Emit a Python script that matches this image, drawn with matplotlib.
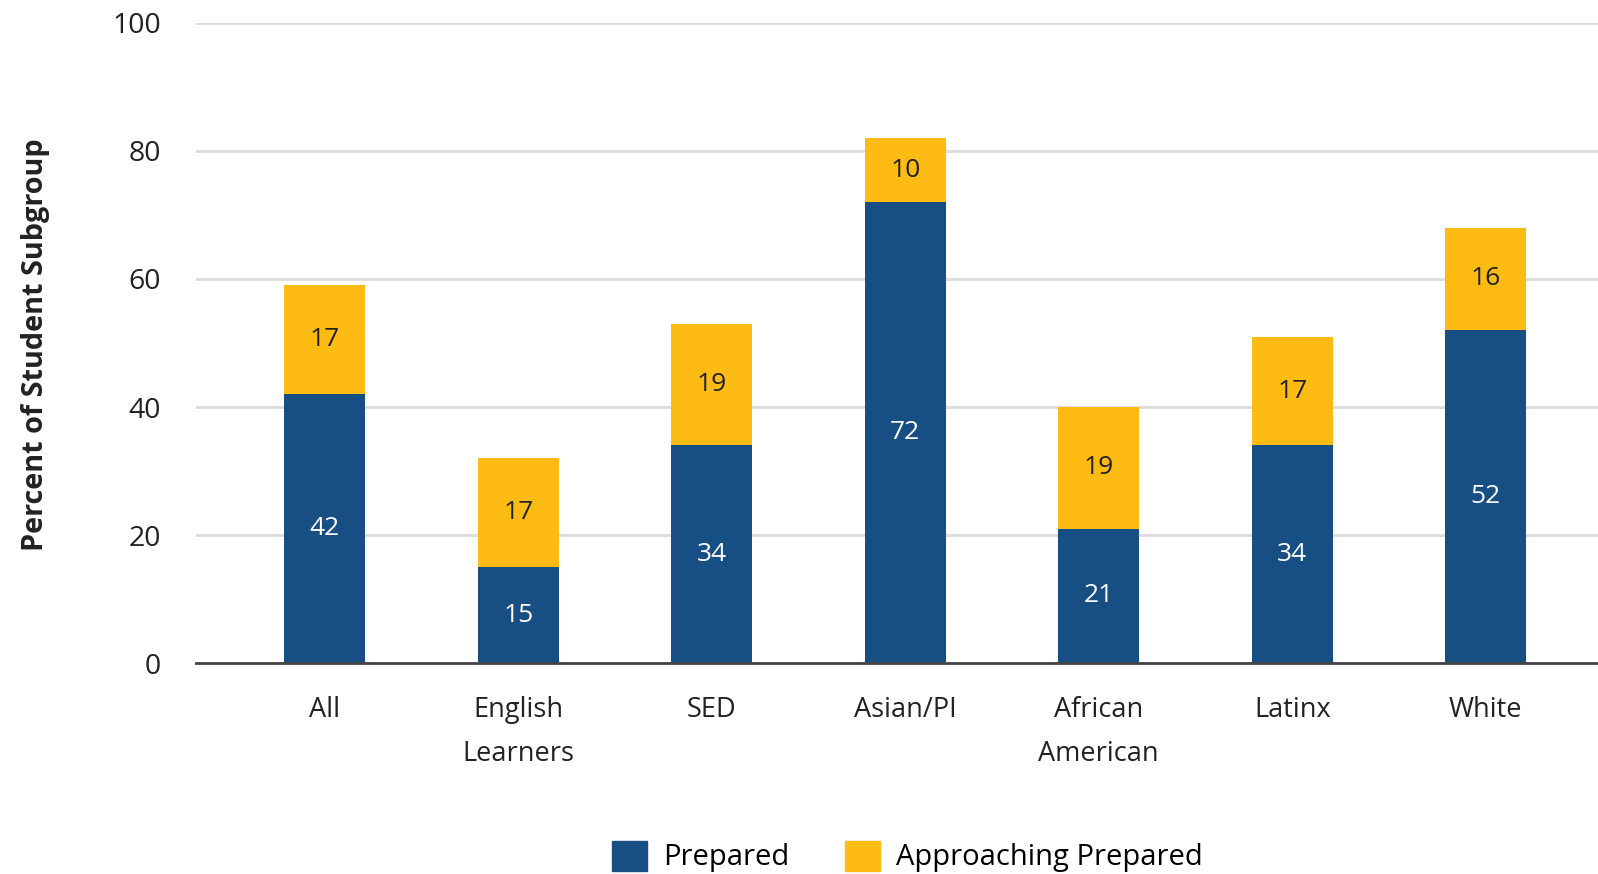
import matplotlib
matplotlib.use("Agg")
import matplotlib.pyplot as plt
from matplotlib.patches import Patch
import numpy as np

# ---- data -------------------------------------------------------------------
groups = ["All", "English\nLearners", "SED", "Asian/PI",
          "African\nAmerican", "Latinx", "White"]
prepared = [42, 15, 34, 72, 21, 34, 52]
approaching = [17, 17, 19, 10, 19, 17, 16]

BLUE = "#174e84"
GOLD = "#fdbb13"
INK = "#222222"
GRID = "#dcdcdc"

plt.rcParams["font.family"] = ["Open Sans", "DejaVu Sans"]

fig = plt.figure(figsize=(15.98, 8.74), dpi=100)
ax = fig.add_axes([0.1227, 0.2414, 0.8773, 0.7323])

x = np.arange(len(groups))
width = 0.42
b1 = ax.bar(x, prepared, width, color=BLUE, zorder=3)
b2 = ax.bar(x, approaching, width, bottom=prepared, color=GOLD, zorder=3)

ax.bar_label(b1, labels=[str(v) for v in prepared], label_type="center",
             color="white", fontsize=19)
ax.bar_label(b2, labels=[str(v) for v in approaching], label_type="center",
             color=INK, fontsize=19)

ax.set_xlim(-0.665, 6.58)
ax.set_ylim(0, 100)
ax.set_yticks([0, 20, 40, 60, 80, 100])
ax.set_xticks(x)
ax.set_xticklabels(groups, fontsize=19.5, color=INK, linespacing=1.75)
ax.tick_params(axis="y", length=0, pad=25, labelsize=20.5, labelcolor=INK)
ax.tick_params(axis="x", length=0, pad=24)

ax.yaxis.grid(True, color=GRID, linewidth=2, zorder=0)
ax.set_axisbelow(True)
for s in ["top", "right", "left"]:
    ax.spines[s].set_visible(False)
ax.spines["bottom"].set_color("#444444")
ax.spines["bottom"].set_linewidth(2)
ax.spines["bottom"].set_zorder(4)

fig.text(0.022, 0.6055, "Percent of Student Subgroup", rotation=90,
         ha="center", va="center", fontsize=20.8, fontweight="bold", color=INK)

handles = [Patch(color=BLUE, label="Prepared"),
           Patch(color=GOLD, label="Approaching Prepared")]
fig.legend(handles=handles, loc="center", bbox_to_anchor=(0.568, 0.02),
           ncol=2, frameon=False, fontsize=21, handlelength=1.2,
           handleheight=1.2, handletextpad=0.55, columnspacing=1.9,
           borderpad=0)

fig.savefig("out.png", dpi=100, facecolor="white")
